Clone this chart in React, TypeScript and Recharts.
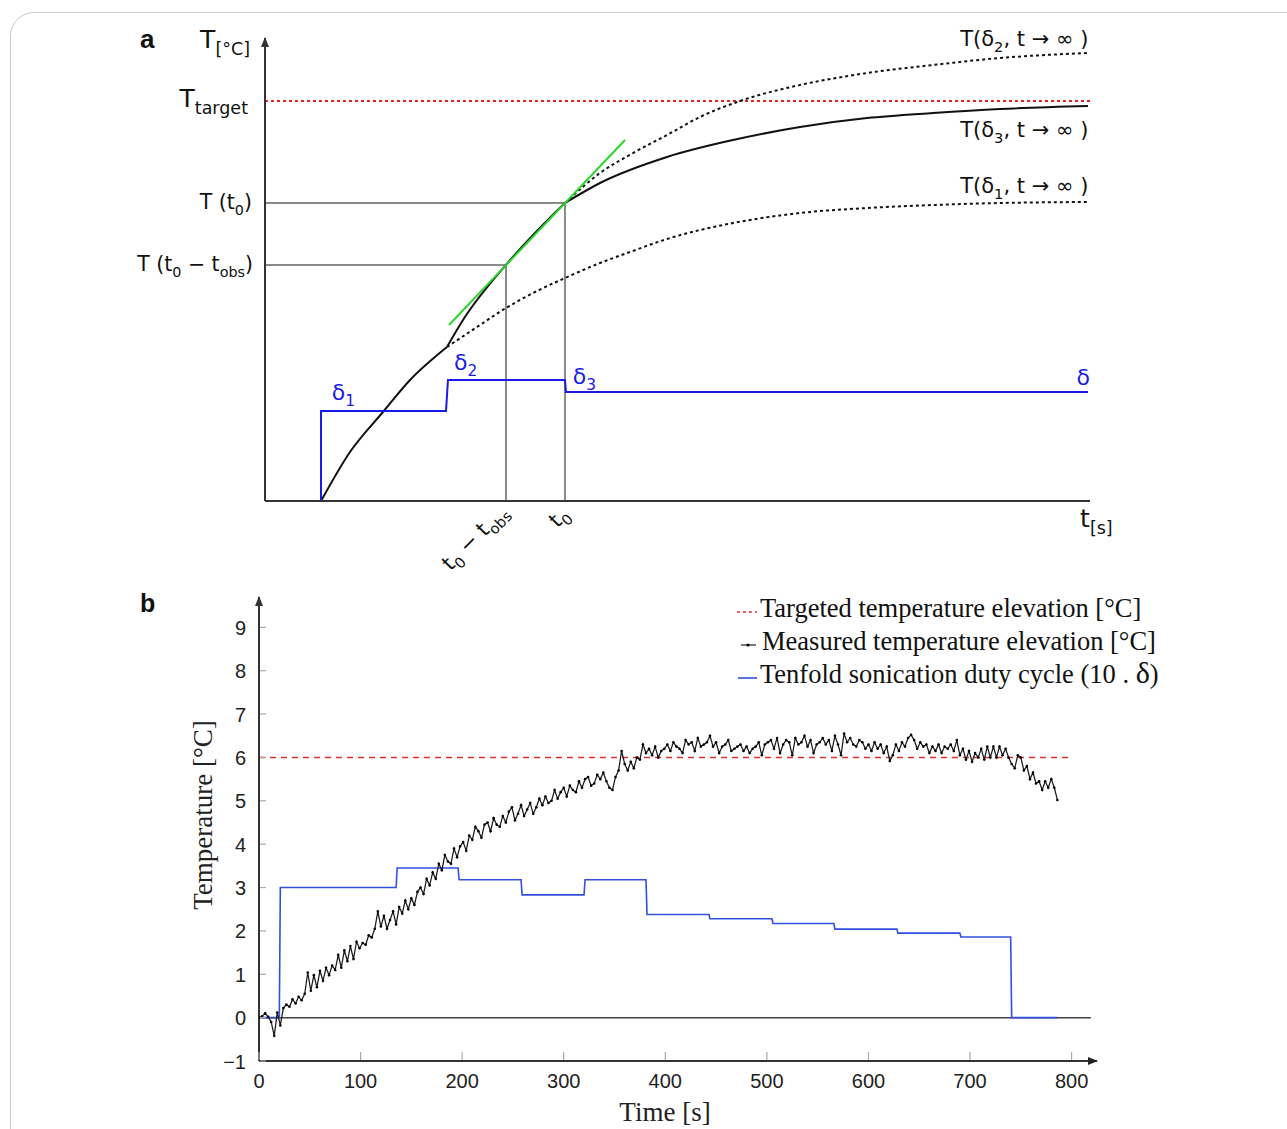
import React from 'react';
import {
  ComposedChart,
  Line,
  XAxis,
  YAxis,
  ReferenceLine,
  ReferenceDot,
  Legend,
} from 'recharts';

const SANS_A = '"DejaVu Sans", Verdana, sans-serif';
const SANS_B = '"Liberation Sans", Arial, sans-serif';
const SERIF = '"Liberation Serif", "Times New Roman", serif';

// ---------- panel a: schematic, arbitrary units (time 0-100, temperature 0-100)
const T0_OBS = 29.21;
const T0 = 36.36;
const T_TARGET = 86.39;
const T_AT_T0 = 64.36;
const T_AT_T0_OBS = 50.97;

const riseDelta1: [number, number][] = [[6.79, 0], [10.3, 10.58], [14.3, 19.22], [17.58, 26.13], [22.06, 33.26]];
const riseDelta2: [number, number][] = [[22.06, 33.26], [24.0, 39.09], [29.21, 51.0], [32.73, 57.88], [36.36, 64.36]];
const riseDelta3: [number, number][] = [
  [36.36, 64.36], [40.61, 68.68], [48.73, 74.3], [56.73, 77.97], [64.85, 80.78],
  [72.97, 82.72], [80.97, 83.8], [89.09, 84.67], [99.76, 85.31],
];
const extrapDelta1: [number, number][] = [
  [22.06, 33.26], [25.7, 37.58], [29.21, 41.68], [32.73, 45.14], [36.36, 48.16], [40.61, 51.4],
  [44.24, 53.78], [48.73, 56.59], [56.73, 60.04], [64.85, 62.2], [72.97, 63.28], [80.97, 63.93],
  [89.09, 64.36], [99.76, 64.58],
];
const extrapDelta2: [number, number][] = [
  [36.36, 64.36], [40.61, 70.84], [44.61, 75.16], [48.73, 79.05], [52.73, 82.94], [57.94, 86.61],
  [64.85, 89.85], [72.97, 92.44], [80.97, 94.17], [89.09, 95.68], [99.76, 96.76],
];
const tangentLine: [number, number][] = [[22.3, 38.01], [43.64, 77.97]];
const schematicDuty: [number, number][] = [
  [6.79, 0], [6.79, 19.44], [21.94, 19.44], [22.18, 26.13], [36.36, 26.13], [36.48, 23.54], [99.76, 23.54],
];

const pts = (a: [number, number][]) => a.map(([x, y]) => ({ x, y }));

// ---------- panel b: measurement
const timeTicks = [0, 100, 200, 300, 400, 500, 600, 700, 800];
const tempTicks = [-1, 0, 1, 2, 3, 4, 5, 6, 7, 8, 9];
const TARGET_ELEVATION = 6;

// duty cycle (x10): level holds from dutyChangeTimes[i] to dutyChangeTimes[i+1]
const dutyChangeTimes = [4, 20, 135, 196, 258, 320, 381, 443, 505, 566, 628, 690, 740, 786];
const dutyLevels = [0, 3.0, 3.45, 3.18, 2.83, 3.18, 2.38, 2.28, 2.17, 2.04, 1.95, 1.86, 0];

// measured temperature elevation, one sample every 3 s
const SAMPLE_S = 3;
const measuredTemp = [
  0.0, 0.03, 0.1, 0.02, -0.1, -0.42, 0.12, -0.18, 0.22, 0.3,
  0.25, 0.42, 0.33, 0.48, 0.4, 0.55, 1.04, 0.62, 0.98, 0.7,
  1.08, 0.85, 1.15, 0.98, 1.2, 1.1, 1.45, 1.15, 1.55, 1.3,
  1.65, 1.35, 1.75, 1.6, 1.72, 1.68, 1.9, 1.85, 2.05, 2.45,
  2.1, 2.35, 2.05, 2.25, 2.45, 2.15, 2.55, 2.4, 2.7, 2.5,
  2.75, 2.6, 2.9, 3.0, 2.85, 3.2, 3.05, 3.35, 3.2, 3.55,
  3.4, 3.75, 3.6, 3.55, 3.9, 3.7, 3.95, 4.05, 3.85, 4.2,
  4.1, 4.4, 4.3, 4.15, 4.45, 4.5, 4.3, 4.6, 4.45, 4.4,
  4.65, 4.5, 4.75, 4.85, 4.55, 4.7, 4.9, 4.65, 4.8, 4.95,
  4.7, 4.85, 5.05, 4.9, 5.1, 4.95, 5.0, 5.25, 5.05, 5.2,
  5.3, 5.1, 5.35, 5.25, 5.2, 5.45, 5.3, 5.5, 5.55, 5.35,
  5.4, 5.6, 5.5, 5.65, 5.45, 5.3, 5.25, 5.55, 5.7, 6.15,
  5.85, 5.7, 5.9, 5.75, 6.0, 5.95, 6.3, 6.1, 6.2, 6.05,
  6.25, 6.0, 6.15, 6.2, 6.3, 6.15, 6.35, 6.25, 6.2, 6.1,
  6.4, 6.3, 6.35, 6.15, 6.45, 6.25, 6.3, 6.35, 6.5, 6.25,
  6.35, 6.1, 6.25, 6.3, 6.4, 6.15, 6.2, 6.25, 6.3, 6.15,
  6.25, 6.1, 6.2, 6.25, 6.35, 6.05, 6.3, 6.35, 6.4, 6.2,
  6.45, 6.1, 6.3, 6.4, 6.35, 6.05, 6.45, 6.3, 6.35, 6.5,
  6.25, 6.4, 6.1, 6.3, 6.35, 6.45, 6.3, 6.4, 6.15, 6.5,
  6.3, 6.05, 6.55, 6.35, 6.45, 6.3, 6.25, 6.4, 6.35, 6.2,
  6.3, 6.15, 6.35, 6.2, 6.3, 6.1, 6.25, 5.92, 6.05, 6.3,
  6.15, 6.35, 6.25, 6.45, 6.52, 6.4, 6.2, 6.35, 6.25, 6.3,
  6.1, 6.25, 6.15, 6.3, 6.1, 6.25, 6.2, 6.3, 6.15, 6.4,
  6.05, 6.2, 5.95, 6.15, 5.9, 6.1, 6.0, 6.2, 5.95, 6.25,
  6.0, 6.25, 6.0, 6.25, 6.05, 6.2, 6.0, 5.85, 5.75, 6.05,
  6.0, 5.7, 5.8, 5.5, 5.65, 5.4, 5.45, 5.25, 5.45, 5.3,
  5.5, 5.3, 5.02,
];

const measuredPoints = measuredTemp.map((v, i) => ({ t: i * SAMPLE_S, temp: v }));
const dutyPoints = dutyLevels.flatMap((level, i) => {
  const start = dutyChangeTimes[i];
  const end = dutyChangeTimes[i + 1];
  return [{ t: i === 0 ? start : start + 1, v: level }, { t: end, v: level }];
});

// text with subscripts: [text, isSub]
type Piece = [string, boolean?];
function rich(pieces: Piece[], size: number, subScale = 0.7, shift = 0.28) {
  let down = false;
  return pieces.map(([s, sub], i) => {
    let dy = 0;
    if (sub && !down) dy = size * shift;
    if (!sub && down) dy = -size * shift;
    down = !!sub;
    return (
      <tspan key={i} dy={dy} fontSize={sub ? size * subScale : size}>
        {s}
      </tspan>
    );
  });
}

const LEFT_LABELS: { value: number; pieces: Piece[]; size: number; gap: number; dy: number }[] = [
  { value: 97.8, pieces: [['T'], ['[°C]', true]], size: 25, gap: 15, dy: 0 },
  { value: T_TARGET, pieces: [['T'], ['target', true]], size: 25, gap: 17, dy: 6 },
  { value: T_AT_T0, pieces: [['T (t'], ['0', true], [')']], size: 20.5, gap: 13, dy: 6 },
  { value: T_AT_T0_OBS, pieces: [['T (t'], ['0', true], [' − t'], ['obs', true], [')']], size: 20.5, gap: 12, dy: 6 },
];

function SchematicYTick(props: any) {
  const { x, y, payload } = props;
  const spec = LEFT_LABELS.find(l => Math.abs(l.value - payload.value) < 1e-6);
  if (!spec) return null;
  return (
    <text x={x - spec.gap} y={y + spec.dy} textAnchor="end" fontFamily={SANS_A} fontSize={spec.size} fill="#111">
      {rich(spec.pieces, spec.size)}
    </text>
  );
}

function SchematicXTick(props: any) {
  const { x, y, payload } = props;
  if (Math.abs(payload.value - T0_OBS) < 1e-6) {
    const ax = x + 3;
    const ay = y + 12;
    return (
      <text x={ax} y={ay} textAnchor="end" transform={`rotate(-45 ${ax} ${ay})`} fontFamily={SANS_A} fontSize={21} fill="#111">
        {rich([['t'], ['0', true], [' − t'], ['obs', true]], 21)}
      </text>
    );
  }
  if (Math.abs(payload.value - T0) < 1e-6) {
    const ax = x + 5;
    const ay = y + 15;
    return (
      <text x={ax} y={ay} textAnchor="end" transform={`rotate(-45 ${ax} ${ay})`} fontFamily={SANS_A} fontSize={21} fill="#111">
        {rich([['t'], ['0', true]], 21)}
      </text>
    );
  }
  return (
    <text x={x} y={y + 26} textAnchor="start" fontFamily={SANS_A} fontSize={25} fill="#111">
      {rich([['t'], ['[s]', true]], 25)}
    </text>
  );
}

const RIGHT_LABELS: { y: number; sub: string }[] = [
  { y: 98.3, sub: '2' },
  { y: 78.6, sub: '3' },
  { y: 66.5, sub: '1' },
];

const DELTA_LABELS: { x: number; y: number; sub: string; anchor: 'start' | 'end' }[] = [
  { x: 8.1, y: 21.8, sub: '1', anchor: 'start' },
  { x: 22.9, y: 28.3, sub: '2', anchor: 'start' },
  { x: 37.3, y: 25.3, sub: '3', anchor: 'start' },
  { x: 100, y: 25.1, sub: '', anchor: 'end' },
];

const ArrowUp = (p: any) => (
  <path d={`M${p.cx - 4},${p.cy + 9} L${p.cx},${p.cy - 1} L${p.cx + 4},${p.cy + 9} Z`} fill="#333" />
);
const ArrowRight = (p: any) => (
  <path d={`M${p.cx - 9},${p.cy - 4} L${p.cx + 1},${p.cy} L${p.cx - 9},${p.cy + 4} Z`} fill="#222" />
);

function SchematicChart() {
  const line = (data: [number, number][], stroke: string, dash?: string, type: any = 'monotone') => (
    <Line
      data={pts(data)}
      dataKey="y"
      type={type}
      stroke={stroke}
      strokeWidth={2}
      strokeDasharray={dash}
      dot={false}
      isAnimationActive={false}
    />
  );
  return (
    <ComposedChart width={1287} height={580} margin={{ top: 38, right: 197, bottom: 78, left: 264 }}>
      <XAxis
        type="number"
        dataKey="x"
        domain={[0, 100]}
        ticks={[T0_OBS, T0, 98.8]}
        interval={0}
        height={1}
        tickSize={0}
        tickMargin={0}
        tickLine={false}
        axisLine={{ stroke: '#333', strokeWidth: 2 }}
        tick={<SchematicXTick />}
        allowDataOverflow
      />
      <YAxis
        type="number"
        domain={[0, 100]}
        ticks={LEFT_LABELS.map(l => l.value)}
        interval={0}
        width={1}
        tickSize={0}
        tickMargin={0}
        tickLine={false}
        axisLine={{ stroke: '#333', strokeWidth: 2 }}
        tick={<SchematicYTick />}
        allowDataOverflow
      />
      <ReferenceLine segment={[{ x: 0, y: T_AT_T0 }, { x: T0, y: T_AT_T0 }]} stroke="#8a8a8a" strokeWidth={2} />
      <ReferenceLine segment={[{ x: 0, y: T_AT_T0_OBS }, { x: T0_OBS, y: T_AT_T0_OBS }]} stroke="#8a8a8a" strokeWidth={2} />
      <ReferenceLine segment={[{ x: T0_OBS, y: 0 }, { x: T0_OBS, y: T_AT_T0_OBS }]} stroke="#8a8a8a" strokeWidth={2} />
      <ReferenceLine segment={[{ x: T0, y: 0 }, { x: T0, y: T_AT_T0 }]} stroke="#8a8a8a" strokeWidth={2} />
      <ReferenceLine y={T_TARGET} stroke="#e52222" strokeWidth={2} strokeDasharray="3 3" />
      {line(extrapDelta1, '#111', '3 3')}
      {line(extrapDelta2, '#111', '3 3')}
      {line(riseDelta1, '#111')}
      {line(riseDelta2, '#111')}
      {line(riseDelta3, '#111')}
      {line(tangentLine, '#2bd62b', undefined, 'linear')}
      {line(schematicDuty, '#1a1ae6', undefined, 'linear')}
      <ReferenceDot x={0} y={100} ifOverflow="visible" shape={ArrowUp} />
      {RIGHT_LABELS.map(l => (
        <ReferenceDot
          key={l.sub}
          x={99.8}
          y={l.y}
          ifOverflow="visible"
          shape={(p: any) => (
            <text x={p.cx} y={p.cy} textAnchor="end" fontFamily={SANS_A} fontSize={21} fill="#111">
              {rich([['T(δ'], [l.sub, true], [', t → ∞ )']], 21)}
            </text>
          )}
        />
      ))}
      {DELTA_LABELS.map(l => (
        <ReferenceDot
          key={l.x}
          x={l.x}
          y={l.y}
          ifOverflow="visible"
          shape={(p: any) => (
            <text x={p.cx} y={p.cy} textAnchor={l.anchor} fontFamily={SANS_A} fontSize={22} fill="#1a1ae6">
              {l.sub ? rich([['δ'], [l.sub, true]], 22) : 'δ'}
            </text>
          )}
        />
      ))}
    </ComposedChart>
  );
}

function TimeTick(props: any) {
  const { x, y, payload } = props;
  return (
    <g>
      <line x1={x} x2={x} y1={y - 1} y2={y - 9} stroke="#aaa" strokeWidth={1.2} />
      <text x={x} y={y + 27} textAnchor="middle" fontFamily={SANS_B} fontSize={20} fill="#222">
        {payload.value}
      </text>
    </g>
  );
}

function TempTick(props: any) {
  const { x, y, payload } = props;
  const v = payload.value;
  return (
    <g>
      <line x1={x + 1} x2={x + 7} y1={y} y2={y} stroke="#aaa" strokeWidth={1.2} />
      <text x={x - 13} y={y + 7.5} textAnchor="end" fontFamily={SANS_B} fontSize={20} fill="#222">
        {v < 0 ? `−${Math.abs(v)}` : v}
      </text>
    </g>
  );
}

function MeasuredLegend() {
  return (
    <svg width={480} height={110} style={{ display: 'block', overflow: 'visible' }}>
      <line x1={7} x2={27} y1={22} y2={22} stroke="#e03030" strokeWidth={1.5} strokeDasharray="3 3" />
      <line x1={11} x2={26} y1={55} y2={55} stroke="#222" strokeWidth={1.2} />
      <circle cx={18} cy={55} r={1.6} fill="#000" />
      <line x1={8} x2={27} y1={88} y2={88} stroke="#3050e0" strokeWidth={1.6} />
      <g fontFamily={SERIF} fontSize={26.5} fill="#111">
        <text x={30} y={27}>Targeted temperature elevation [°C]</text>
        <text x={32} y={60}>Measured temperature elevation [°C]</text>
        <text x={30} y={93}>
          Tenfold sonication duty cycle (10 . <tspan fontSize={30}>δ</tspan>)
        </text>
      </g>
    </svg>
  );
}

function MeasuredChart() {
  return (
    <ComposedChart width={1287} height={549} margin={{ top: 17, right: 190, bottom: 67, left: 258 }}>
      <XAxis
        type="number"
        dataKey="t"
        domain={[0, 825]}
        ticks={timeTicks}
        interval={0}
        height={1}
        tickSize={0}
        tickMargin={0}
        tickLine={false}
        axisLine={{ stroke: '#333', strokeWidth: 2 }}
        tick={<TimeTick />}
        allowDataOverflow
        label={() => (
          <text x={665} y={541} textAnchor="middle" fontFamily={SERIF} fontSize={27} fill="#222">
            Time [s]
          </text>
        )}
      />
      <YAxis
        type="number"
        domain={[-1, 9.7]}
        ticks={tempTicks}
        interval={0}
        width={1}
        tickSize={0}
        tickMargin={0}
        tickLine={false}
        axisLine={{ stroke: '#333', strokeWidth: 2 }}
        tick={<TempTick />}
        allowDataOverflow
        label={() => (
          <text x={212} y={235} transform="rotate(-90 212 235)" textAnchor="middle" fontFamily={SERIF} fontSize={27} fill="#222">
            Temperature [°C]
          </text>
        )}
      />
      <ReferenceLine segment={[{ x: 0, y: 0 }, { x: 819, y: 0 }]} stroke="#444" strokeWidth={1.5} />
      <ReferenceLine
        segment={[{ x: 0, y: TARGET_ELEVATION }, { x: 800, y: TARGET_ELEVATION }]}
        stroke="#e03030"
        strokeWidth={1.5}
        strokeDasharray="6 5"
      />
      <Line data={dutyPoints} dataKey="v" type="linear" stroke="#3050e0" strokeWidth={1.6} dot={false} isAnimationActive={false} />
      <Line
        data={measuredPoints}
        dataKey="temp"
        type="linear"
        stroke="#1a1a1a"
        strokeWidth={1.25}
        dot={{ r: 1.3, fill: '#000', stroke: 'none' }}
        isAnimationActive={false}
      />
      <ReferenceDot x={0} y={9.7} ifOverflow="visible" shape={ArrowUp} />
      <ReferenceDot x={825} y={-1} ifOverflow="visible" shape={ArrowRight} />
      <Legend
        layout="horizontal"
        verticalAlign="middle"
        align="center"
        content={() => <MeasuredLegend />}
        wrapperStyle={{ left: 730, top: 10, width: 480, height: 110 }}
      />
    </ComposedChart>
  );
}

export default function App() {
  return (
    <div style={{ position: 'relative', width: 1287, height: 1129, overflow: 'hidden', background: '#fff' }}>
      <style>{'html,body{margin:0;padding:0;overflow:hidden;background:#fff}'}</style>
      <div
        style={{
          position: 'absolute',
          left: 10,
          top: 12,
          width: 1320,
          height: 1200,
          border: '1.5px solid #c9c9c9',
          borderRadius: 24,
        }}
      />
      <div style={{ position: 'absolute', left: 0, top: 0 }}>
        <SchematicChart />
      </div>
      <div style={{ position: 'absolute', left: 0, top: 580 }}>
        <MeasuredChart />
      </div>
      <div style={{ position: 'absolute', left: 140, top: 26, font: `bold 26px/26px ${SANS_B}`, color: '#111' }}>a</div>
      <div style={{ position: 'absolute', left: 140, top: 591, font: `bold 25px/25px ${SANS_B}`, color: '#111' }}>b</div>
    </div>
  );
}
